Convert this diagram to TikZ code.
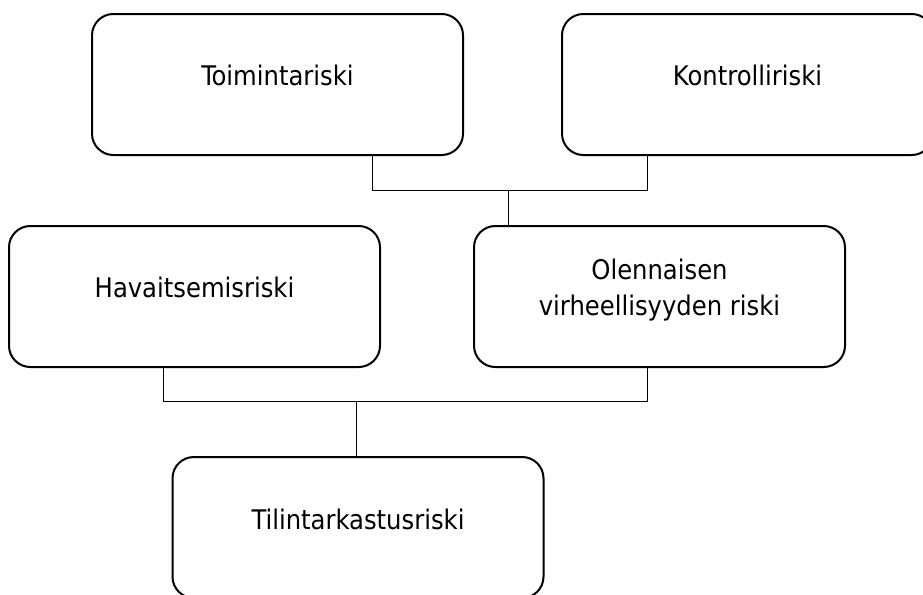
\documentclass[tikz,border=0pt]{standalone}
\usepackage{fontspec}
\setmainfont{DejaVu Sans Condensed}
\begin{document}
\begin{tikzpicture}[x=0.75pt,y=-0.75pt,
  box/.style={draw, line width=1.5pt, rounded corners=16pt, minimum width=278.25pt, minimum height=105.75pt, inner sep=0pt},
  lbl/.style={inner sep=0pt, anchor=base, font=\fontsize{20.25pt}{27pt}\selectfont},
  conn/.style={line width=0.75pt}]
\useasboundingbox (0,0) rectangle (923,594);
\clip (0,0) rectangle (923,594);
\node[box] (b1) at (277.5,84.5) {};
\node[box] (b2) at (747.5,84.5) {};
\node[box] (b3) at (194.5,296.5) {};
\node[box] (b4) at (659.5,296.5) {};
\node[box] (b5) at (358,527.5) {};
\node[lbl] (t1) at (277.5,85) {Toimintariski};
\node[lbl] (t2) at (747.5,85) {Kontrolliriski};
\node[lbl] (t3) at (194.5,297) {Havaitsemisriski};
\node[lbl, anchor=center, align=center] (t4) at (659.5,290) {Olennaisen\\virheellisyyden riski};
\node[lbl] (t5) at (358,529) {Tilintarkastusriski};
\coordinate (p1) at (372,190);
\coordinate (p2) at (647,190);
\coordinate (j1) at (508,190);
\coordinate (q1) at (163,401);
\coordinate (q2) at (647,401);
\coordinate (j2) at (356,401);
\draw[conn] (p1 |- b1.south) -- (p1) -- (p2) -- (p2 |- b2.south);
\draw[conn] (j1) -- (j1 |- b4.north);
\draw[conn] (q1 |- b3.south) -- (q1) -- (q2) -- (q2 |- b4.south);
\draw[conn] (j2) -- (j2 |- b5.north);
\end{tikzpicture}
\end{document}
